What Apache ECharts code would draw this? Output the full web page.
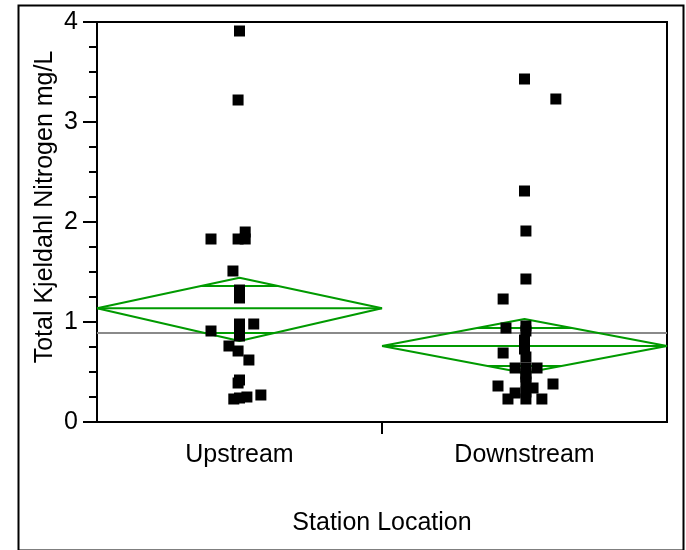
<!DOCTYPE html>
<html>
<head>
<meta charset="utf-8">
<script src="https://cdn.jsdelivr.net/npm/echarts@6/dist/echarts.min.js"></script>
<style>
html, body { margin: 0; padding: 0; background: #fff; }
#myChart { width: 686px; height: 550px; }
</style>
</head>
<body>
<div id="myChart"></div>
<script>
// categories along the x axis
var categories = ['Upstream', 'Downstream'];

// TKN values (mg/L), with small horizontal jitter (fraction of a category)
var upValues = [3.91, 3.22, 1.83, 1.83, 1.83, 1.90, 1.51, 1.32, 1.26, 1.24, 0.98, 0.98,
                0.91, 0.90, 0.86, 0.76, 0.71, 0.62, 0.42, 0.39, 0.23, 0.24, 0.25, 0.27];
var upJitter = [0, -0.005, -0.1, -0.005, 0.02, 0.02, -0.023, 0, 0, 0, 0, 0.05,
                -0.1, 0, 0, -0.037, -0.005, 0.033, 0, -0.005, -0.02, 0, 0.026, 0.075];
var downValues = [3.43, 3.23, 2.31, 1.91, 1.43, 1.23, 0.94, 0.96, 0.91, 0.82, 0.73, 0.69,
                  0.65, 0.54, 0.54, 0.54, 0.48, 0.45, 0.40, 0.36, 0.38, 0.29, 0.34, 0.30,
                  0.23, 0.23, 0.23];
var downJitter = [0, 0.11, 0, 0.005, 0.005, -0.075, -0.065, 0.005, 0.005, 0, 0, -0.075,
                  0.005, -0.033, 0.005, 0.044, 0.005, 0.005, 0.005, -0.093, 0.1, -0.033, 0.03, 0.005,
                  -0.058, 0.005, 0.061];

// means diamonds: mean, upper / lower 95% and overlap marks
var groupMeans = [1.137, 0.76];
var groupUpper = [1.443, 1.03];
var groupLower = [0.81, 0.49];
var overlapHi = [1.36, 0.94];
var overlapLo = [0.89, 0.56];
var grandMean = 0.89;

// y axis ticks
var yTicks = [0, 1, 2, 3, 4];

var font = '"Liberation Sans", Arial, Helvetica, sans-serif';
var green = '#009a00';

function pts(values, jitter, idx) {
  var out = [];
  for (var i = 0; i < values.length; i++) {
    out.push([idx + 0.5 + jitter[i], values[i]]);
  }
  return out;
}

function lineSeries(data, color) {
  return {
    type: 'line', data: data, symbol: 'none', silent: true,
    lineStyle: { color: color, width: 2 }, z: 3
  };
}

var series = [];
// grand mean
series.push({
  type: 'line', data: [[0, grandMean], [2, grandMean]], symbol: 'none', silent: true,
  lineStyle: { color: '#8a8a8a', width: 2 }, z: 2
});
// diamonds
for (var g = 0; g < categories.length; g++) {
  var m = groupMeans[g], up = groupUpper[g], lo = groupLower[g];
  series.push(lineSeries([[g, m], [g + 0.5, up], [g + 1, m], [g + 0.5, lo], [g, m]], green));
  series.push(lineSeries([[g, m], [g + 1, m]], green));
  var wHi = 0.5 * (1 - (overlapHi[g] - m) / (up - m));
  var wLo = 0.5 * (1 - (m - overlapLo[g]) / (m - lo));
  series.push(lineSeries([[g + 0.5 - wHi, overlapHi[g]], [g + 0.5 + wHi, overlapHi[g]]], green));
  series.push(lineSeries([[g + 0.5 - wLo, overlapLo[g]], [g + 0.5 + wLo, overlapLo[g]]], green));
}
// points
series.push({
  type: 'scatter', symbol: 'rect', symbolSize: 11, z: 5,
  itemStyle: { color: '#000', opacity: 1 },
  data: pts(upValues, upJitter, 0).concat(pts(downValues, downJitter, 1))
});

var myChart = echarts.init(document.getElementById('myChart'));
myChart.setOption({
  animation: false,
  backgroundColor: '#fff',
  textStyle: { fontFamily: font },
  grid: {
    left: 97, right: 19, top: 22, bottom: 128,
    show: true, borderColor: '#000', borderWidth: 2
  },
  xAxis: {
    type: 'value', min: 0, max: categories.length,
    name: 'Station Location', nameLocation: 'middle', nameGap: 89,
    nameTextStyle: { fontSize: 25, color: '#000', fontFamily: font },
    axisLine: { show: true, lineStyle: { color: '#000', width: 2 } },
    axisTick: { show: true, customValues: [1], length: 12, lineStyle: { color: '#000', width: 2 } },
    axisLabel: {
      customValues: [0.5, 1.5], margin: 21, fontSize: 25, color: '#000', fontFamily: font,
      formatter: function (v) { return categories[Math.floor(v)]; }
    },
    splitLine: { show: false }
  },
  yAxis: {
    type: 'value', min: yTicks[0], max: yTicks[yTicks.length - 1], interval: 1,
    axisLine: { show: true, lineStyle: { color: '#000', width: 2 } },
    axisTick: { show: true, length: 14, lineStyle: { color: '#000', width: 2 } },
    minorTick: { show: true, splitNumber: 4, length: 8, lineStyle: { color: '#000', width: 2 } },
    axisLabel: { margin: 19, fontSize: 25, color: '#000', fontFamily: font },
    splitLine: { show: false }
  },
  graphic: [
    {
      type: 'rect', left: 16, top: 3, silent: true,
      shape: { width: 665, height: 545 },
      style: { fill: 'none', stroke: '#000', lineWidth: 2 }
    },
    {
      type: 'text', x: 45, y: 207, rotation: Math.PI / 2, silent: true,
      style: {
        text: 'Total Kjeldahl Nitrogen mg/L', fontSize: 25, fontFamily: font, fill: '#000',
        align: 'center', verticalAlign: 'middle'
      }
    }
  ],
  series: series
});
</script>
</body>
</html>
